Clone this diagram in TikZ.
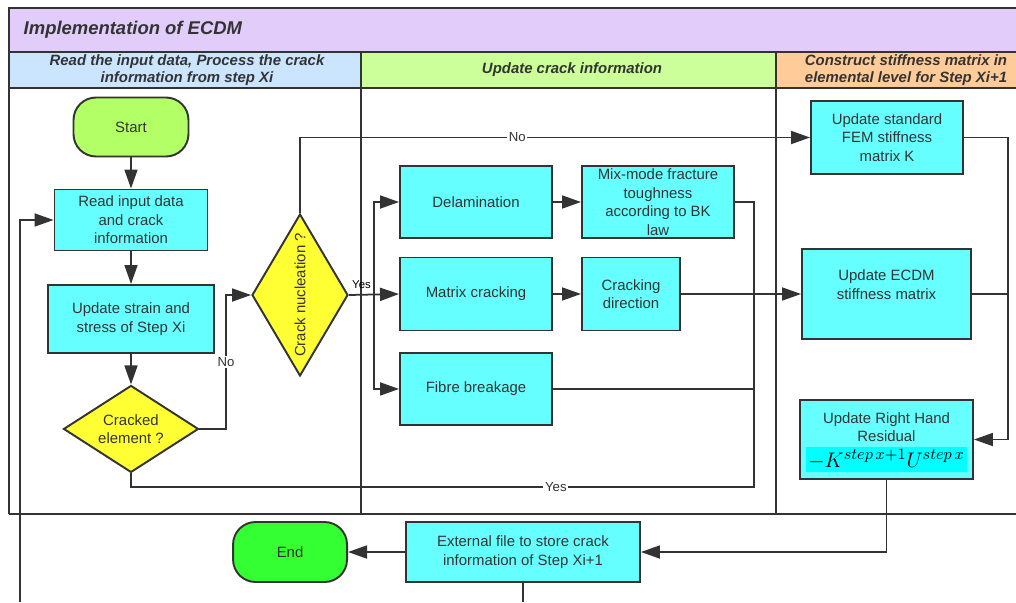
\documentclass[tikz,border=0pt]{standalone}
\usepackage{fontspec}
\setmainfont{Liberation Sans}
\usepackage{tikz}
\usepackage{amsmath}
\usepackage{color}
\usetikzlibrary{shapes.geometric,arrows.meta}

\definecolor{ink}{HTML}{333333}
\definecolor{titlebar}{HTML}{E1CCFA}
\definecolor{laneone}{HTML}{CCE5FF}
\definecolor{lanetwo}{HTML}{CCFF99}
\definecolor{lanethree}{HTML}{FFCC99}
\definecolor{procfill}{HTML}{66FFFF}
\definecolor{decfill}{HTML}{FFFF33}
\definecolor{startfill}{HTML}{B2FF66}
\definecolor{endfill}{HTML}{33FF33}
\definecolor{formfill}{HTML}{00FFFF}
\setlength{\fboxsep}{1.5pt}

\begin{document}
\begin{tikzpicture}[x=0.02cm, y=-0.02cm, node distance=2cm, color=ink, line width=1pt,
	every node/.style={text=ink, font=\fontsize{8.5}{10.5}\selectfont},
	proc node/.style={rectangle,draw=ink,fill=procfill,align=center,inner sep=1pt,line width=1.1pt},
	dec node/.style={diamond,draw=ink,fill=decfill,align=center,inner sep=0pt,line width=1.1pt},
	term node/.style={rectangle,rounded corners=0.45cm,draw=ink,line width=1.1pt,minimum width=2.3cm,minimum height=1.18cm},
	lane title/.style={font=\fontsize{8.5}{9.8}\selectfont\bfseries\itshape,align=center},
	flow/.style={-{Triangle[length=3.8mm,width=2.6mm]}},
	tag/.style={fill=white,inner sep=1pt,font=\fontsize{7.5}{8}\selectfont}]
	
	\useasboundingbox (0,0) rectangle (1016,602);
	
	% swimlanes
	\fill[titlebar] (9,8) rectangle (1016,52);
	\fill[laneone] (9,52) rectangle (361,88);
	\fill[lanetwo] (361,52) rectangle (776,88);
	\fill[lanethree] (776,52) rectangle (1016,88);
	\draw (1016,8) -- (9,8) -- (9,514);
	\draw (9,52) -- (1016,52) (9,88) -- (1016,88);
	\draw[line width=0.8pt] (361,52) -- (361,514) (776,52) -- (776,514);
	\draw[line width=1.4pt] (9,514) -- (1016,514);
	
	\node[anchor=west, font=\fontsize{10.5}{12}\selectfont\bfseries\itshape] (title) at (17,30) {Implementation of ECDM};
	\node[lane title] (laneA) at (187,70) {Read the input data, Process the crack\\information from step Xi};
	\node[lane title] (laneB) at (572,70) {Update crack information};
	\node[lane title] (laneC) at (906,70) {Construct stiffness matrix in\\elemental level for Step Xi+1};
	
	% flow
	\node[term node, fill=startfill] (start) at (131,127) {Start};
	\node[proc node, minimum width=3.06cm, minimum height=1.22cm] (read) [below of=start, node distance=1.86cm] {Read input data\\and crack\\information};
	\node[proc node, minimum width=3.32cm, minimum height=1.36cm] (strain) [below of=read, node distance=1.98cm] {Update strain and\\stress of Step Xi};
	\node[dec node, minimum width=2.7cm, minimum height=1.74cm, shape aspect=1.55] (cracked) [below of=strain, node distance=2.2cm] {Cracked\\element ?};
	\node[dec node, minimum width=1.92cm, minimum height=3.24cm, shape aspect=0.59] (nucl) at (300,295) {\rotatebox{90}{Crack nucleation ?}};
	
	\node[proc node, minimum width=3.04cm, minimum height=1.44cm] (delam) at (476,202) {Delamination};
	\node[proc node, minimum width=3.04cm, minimum height=1.44cm, inner sep=0pt] (mixmode) [right of=delam, node distance=3.64cm] {Mix-mode fracture\\toughness\\according to BK\\law};
	\node[proc node, minimum width=3.04cm, minimum height=1.46cm] (matrix) [below of=delam, node distance=1.84cm] {Matrix cracking};
	\node[proc node, minimum width=1.96cm, minimum height=1.46cm] (direction) [right of=matrix, node distance=3.1cm] {Cracking\\direction};
	\node[proc node, minimum width=3.04cm, minimum height=1.44cm] (fibre) [below of=matrix, node distance=1.9cm] {Fibre breakage};
	
	\node[proc node, minimum width=3.04cm, minimum height=1.46cm] (fem) at (887,137.5) {Update standard\\FEM stiffness\\matrix K};
	\node[proc node, minimum width=3.38cm, minimum height=1.8cm] (ecdm) at (886.5,294) {Update ECDM\\stiffness matrix\\\mbox{}};
	\node[proc node, minimum width=3.46cm, minimum height=1.58cm, inner sep=0pt] (residual) at (886.5,439.5) {\rule{0pt}{9pt}Update Right Hand\\Residual\\[2pt]{\fontsize{12.5}{14}\selectfont\colorbox{formfill}{\color{black}$-K^{step\,x+1}U^{step\,x}$}}};
	
	\node[proc node, minimum width=4.68cm, minimum height=1.2cm] (extfile) at (523,552) {External file to store crack\\information of Step Xi+1};
	\node[term node, fill=endfill, minimum width=2.28cm, minimum height=1.2cm] (finish) [left of=extfile, node distance=4.66cm] {End};
	
	\coordinate (nobend) at (226,295);
	\coordinate (split) at (374,295);
	\coordinate (join) at (754,295);
	\coordinate (yesbend) at (754,487);
	\coordinate (rbus) at (1008,439.5);
	\coordinate (loopout) at (523,602);
	\coordinate (loopin) at (20,602);
	
	\draw[flow] (start) -- (read);
	\draw[flow] (read) -- (strain);
	\draw[flow] (strain) -- (cracked);
	\draw[flow] (cracked.east) -| node[tag, pos=0.75] {No} (nobend) -- (nucl.west);
	\draw[flow] (nucl.north) |- node[tag, pos=0.713] {No} (fem.west);
	\draw[flow] (nucl.east) -- node[pos=0.25, above, inner sep=3pt, text=black, font=\fontsize{6.5}{7}\selectfont] {Yes} (matrix.west);
	\draw[flow] (split) |- (delam.west);
	\draw[flow] (split) |- (fibre.west);
	\draw[flow] (delam) -- (mixmode);
	\draw[flow] (matrix) -- (direction);
	\draw[flow] (direction) -- (ecdm);
	\draw (mixmode.east) -| (join);
	\draw (fibre.east) -| (join);
	\draw (cracked.south) |- node[tag, pos=0.841] {Yes} (yesbend) -- (join);
	\draw[flow] (fem.east) -| (rbus) -- (residual.east);
	\draw (ecdm.east) -- (ecdm.east -| rbus);
	\draw[flow] (residual.south) |- (extfile.east);
	\draw[flow] (extfile) -- (finish);
	\draw (extfile.south) -- (loopout);
	\draw[flow] (loopin) |- (read.west);
	
\end{tikzpicture}
\end{document}
